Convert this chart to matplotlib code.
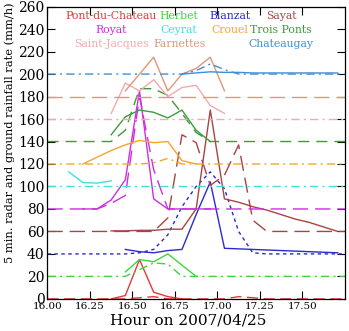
import numpy as np
import matplotlib.pyplot as plt

# 5-minute sampling, stamped at interval centres
t5 = 16.0 + (np.arange(21) + 0.5) / 12.0
t_start, t_end = 16.0, 17.75
nan = np.nan

names = ['Pont-du-Chateau', 'Herbet', 'Blanzat', 'Sayat', 'Royat', 'Ceyrat',
         'Crouel', 'Trois Ponts', 'Saint-Jacques', 'Farnettes', 'Chateaugay']
offsets = [0, 20, 40, 60, 80, 100, 120, 140, 160, 180, 200]
colors = ['#e23a3a', '#3ed43e', '#2a2ad0', '#a84444', '#cc2ee0', '#3ee0e0',
          '#f4a52a', '#3c9c3c', '#f2aaaa', '#dc9878', '#3f8fd6']
gauge_styles = [(0, (8, 4)), (0, (6, 3, 1.5, 3)), (0, (2.5, 2.5)), (0, (11, 5)),
                (0, (11, 5)), (0, (6, 3, 1.5, 3)), (0, (6, 3, 1.5, 3)), (0, (8, 5)),
                (0, (6, 3, 1.5, 3)), (0, (11, 5)), (0, (6, 3, 1.5, 3))]

# radar (solid) rain rates, mm/h
radar = [
    [nan, nan, nan, nan, 0, 3, 35, 6, 2, 0, nan, nan, nan, nan, nan, nan, nan, nan, nan, nan, nan],
    [nan, nan, nan, nan, nan, 4, 15, 13, 20, 10, 0, nan, nan, nan, nan, nan, nan, nan, nan, nan, nan],
    [nan, nan, nan, nan, nan, 4, 2, 1, 3, 4, 35, 64, 5, 4.5, 4, 3.5, 3, 2.5, 2, 1.5, 1],
    [nan, nan, nan, nan, 0.5, 0.5, 1, 1, 2, 2, 20, 108, 29, 26, 22, 19, 15, 11, 8, 4, 0],
    [nan, nan, 0, 0, 8, 26, 105, 9, 0, 0, 0, 0, nan, nan, nan, nan, nan, nan, nan, nan, nan],
    [nan, 13, 3.5, 3, 5, nan, nan, nan, nan, nan, nan, nan, nan, nan, nan, nan, nan, nan, nan, nan, nan],
    [nan, nan, 0, 6, 12, 17, 21, 19, 20, 3, 0, nan, nan, nan, nan, nan, nan, nan, nan, nan, nan],
    [nan, nan, nan, nan, 6, 22, 28, 26, 21, 28, 10, 0, nan, nan, nan, nan, nan, nan, nan, nan, nan],
    [nan, nan, nan, nan, 5, 32, 25, 35, 20, 28, 30, 12, 5, nan, nan, nan, nan, nan, nan, nan, nan],
    [nan, nan, nan, nan, nan, 5, 20, 35, 5, 20, 25, 35, 5, nan, nan, nan, nan, nan, nan, nan, nan],
    [nan, nan, nan, nan, nan, nan, nan, nan, nan, 0, 1, 2, 1.5, 1.5, 1, 1, 1, 1, 1, 1, 1],
]

# rain gauge (dashed) rates, mm/h
gauge = [
    [0, 0, 0, 0, 0, 0, 1, 2, 0, 0, 0, 0, 0, 2, 1, 0, 0, 0, 0, 0, 0],
    [0, 0, 0, 0, 0, 0, 6, 12, 11, 0, 0, 0, 0, 0, 0, 0, 0, 0, 0, 0, 0],
    [0, 0, 0, 0, 0, 0, 1, 4, 17, 42, 60, 73, 58, 20, 1, 0, 0, 0, 0, 0, 0],
    [0, 0, 0, 0, 0, 0, 0, 0, 12, 86, 79, 41, 50, 77, 10, 0, 0, 0, 0, 0, 0],
    [0, 0, 0, 0, 5, 12, 100, 35, 0, 0, 0, 0, 0, 0, 0, 0, 0, 0, 0, 0, 0],
    [0, 0, 0, 0, 0, 0, 0, 0, 0, 0, 0, 0, 0, 0, 0, 0, 0, 0, 0, 0, 0],
    [0, 0, 0, 0, 0, 0, 0, 1, 5, 0, 0, 0, 0, 0, 0, 0, 0, 0, 0, 0, 0],
    [0, 0, 0, 0, 0, 10, 47, 47, 41, 25, 8, 0, 0, 0, 0, 0, 0, 0, 0, 0, 0],
    [0, 0, 0, 0, 0, 0, 0, 0, 0, 0, 0, 0, 0, 0, 0, 0, 0, 0, 0, 0, 0],
    [0, 0, 0, 0, 0, 0, 0, 0, 0, 0, 0, 0, 0, 0, 0, 0, 0, 0, 0, 0, 0],
    [0, 0, 0, 0, 0, 0, 0, 0, 0, 0, 3, 9, 4, 0, 0, 0, 0, 0, 0, 0, 0],
]

# legend text grid: column centres (hour) and row heights (mm/h)
label_x = [16.375, 16.775, 17.075, 17.375]
label_y = [252, 239, 227]
label_slot = [(0, 0), (0, 1), (0, 2), (0, 3), (1, 0), (1, 1),
              (1, 2), (1, 3), (2, 0), (2, 1), (2, 3)]

fig = plt.figure(figsize=(3.49, 3.31), dpi=100)
ax = fig.add_axes([0.136, 0.097, 0.852, 0.883])

t_full = np.concatenate([[t_start], t5, [t_end]])
for i in range(len(names)):
    off = offsets[i]
    g = np.array(gauge[i], dtype=float)
    g_full = np.concatenate([[g[0]], g, [g[-1]]]) + off
    ax.plot(t_full, g_full, color=colors[i], lw=1.0, linestyle=gauge_styles[i])
    r = np.array(radar[i], dtype=float) + off
    ax.plot(t5, r, color=colors[i], lw=1.0)
    row, col = label_slot[i]
    ax.text(label_x[col], label_y[row], names[i], color=colors[i],
            ha='center', va='center', fontsize=7.8, family='DejaVu Serif')

ax.set_xlim(t_start, t_end)
ax.set_ylim(0, 260)
ax.set_xticks([16.0, 16.25, 16.5, 16.75, 17.0, 17.25, 17.5])
ax.set_xticklabels(['16.00', '16.25', '16.50', '16.75', '17.00', '17.25', '17.50'],
                   family='DejaVu Serif', fontsize=7.5)
ax.set_yticks(np.arange(0, 261, 20))
ax.set_yticklabels([str(v) for v in range(0, 261, 20)], family='DejaVu Serif', fontsize=10)
ax.tick_params(direction='in', top=True, right=True, length=6, width=0.8, pad=2)
for s in ax.spines.values():
    s.set_linewidth(0.9)

fig.text(0.54, 0.033, 'Hour on 2007/04/25', ha='center', va='center',
         family='DejaVu Serif', fontsize=11)
fig.text(0.029, 0.598, '5 min. radar and ground rainfall rate (mm/h)', rotation=90,
         ha='center', va='center', family='DejaVu Serif', fontsize=8.2)

fig.savefig('out.png', dpi=100)
